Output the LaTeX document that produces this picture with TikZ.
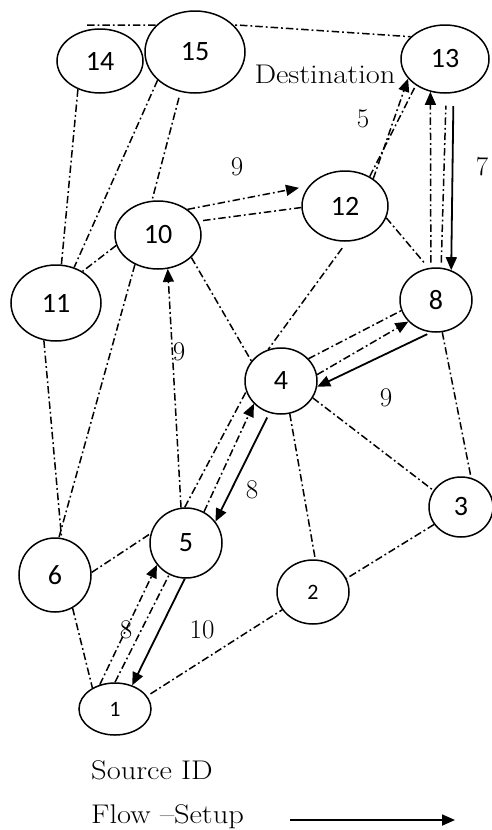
\documentclass[tikz,border=0pt]{standalone}
\usepackage{fontspec}
\newfontfamily\numf{Carlito}
\usetikzlibrary{shapes.geometric,arrows.meta,backgrounds}
\newcommand{\wide}[1]{\scalebox{1.13}[1]{#1}}
\tikzset{
  nd/.style={ellipse,draw,fill=white,line width=1.5pt,inner sep=0pt,font=\numf\fontsize{28}{30}\selectfont},
  dd/.style={line width=1.5pt,dash pattern=on 7.5pt off 3pt on 1.8pt off 3pt},
  flow/.style={line width=1.8pt},
  tip/.style={-{Triangle[length=13pt,width=11pt]}},
  lab/.style={font=\fontsize{27}{30}\selectfont,inner sep=0pt},
}
\begin{document}
\begin{tikzpicture}[x=1pt,y=-1pt]
\useasboundingbox (0,0) rectangle (491,830);
% nodes
\node[nd,minimum width=86pt,minimum height=64pt] (n14) at (100,61) {14};
\node[nd,minimum width=100pt,minimum height=82pt] (n15) at (195,52) {15};
\node[nd,minimum width=88pt,minimum height=68pt] (n13) at (445,59) {13};
\node[nd,minimum width=86pt,minimum height=70pt] (n12) at (345,206) {12};
\node[nd,minimum width=86pt,minimum height=68pt] (n10) at (158,235) {10};
\node[nd,minimum width=90pt,minimum height=76pt] (n11) at (56,303) {11};
\node[nd,minimum width=72pt,minimum height=64pt] (n8) at (436,300) {8};
\node[nd,minimum width=72pt,minimum height=66pt] (n4) at (281,381) {4};
\node[nd,minimum width=64pt,minimum height=60pt] (n3) at (461,507) {3};
\node[nd,minimum width=72pt,minimum height=70pt] (n5) at (186,543) {5};
\node[nd,minimum width=72pt,minimum height=74pt] (n6) at (55,575) {6};
\node[nd,minimum width=72pt,minimum height=64pt,font=\numf\fontsize{22}{24}\selectfont] (n2) at (313,592) {2};
\node[nd,minimum width=72pt,minimum height=52pt,font=\numf\fontsize{22}{24}\selectfont] (n1) at (115,709) {1};
% free ends
\coordinate (t1) at (87,25);
\coordinate (t2) at (237,25);
\coordinate (fa) at (290,820);
\coordinate (fb) at (455,820);
% connectors
\begin{scope}[on background layer]
\draw[dd] (t1) -- (t2) -- (n13.147);
\draw[dd] (n14.232) -- (n11.82);
\draw[dd] (n15.217) -- (n11.63);
\draw[dd,shorten <=6pt] (n15.250) -- (n10.100);
\draw[dd,tip,shorten >=10pt] (n10.41) -- (n12.151);
\draw[dd,shorten <=5pt] (n10.19) -- (n12.182);
\draw[dd] (n12.50) -- (n13.222);
\draw[dd,tip] (n12.44) -- (n13.208);
\draw[dd,tip,shorten <=5pt] (n8.99) -- (n13.246);
\draw[dd,shorten <=5pt,shorten >=12pt] (n8.81) -- (n13.272);
\draw[flow,tip,shorten <=13pt] (n13.284) -- (n8.63);
\draw[dd,shorten >=6pt] (n12.344) -- (n8.103);
\draw[dd,shorten <=8pt] (n12.273) -- (n4.112);
\draw[dd] (n10.326) -- (n4.146);
\draw[dd] (n10.194) -- (n11.50);
\draw[dd] (n10.232) -- (n6.84);
\draw[dd] (n11.252) -- (n6.80);
\draw[dd,tip] (n5.98) -- (n10.286);
\draw[dd] (n5.92) -- (n4.197);
\draw[dd,tip] (n5.60) -- (n4.220);
\draw[flow,tip,shorten <=5pt] (n4.250) -- (n5.36);
\draw[dd] (n4.39) -- (n8.197);
\draw[dd,tip] (n4.10) -- (n8.218);
\draw[flow,tip,shorten <=4pt] (n8.261) -- (n4.351);
\draw[dd] (n8.281) -- (n3.71);
\draw[dd] (n4.332) -- (n3.149);
\draw[dd] (n4.285) -- (n2.86);
\draw[dd] (n3.213) -- (n2.22);
\draw[dd] (n6.4) -- (n5.165);
\draw[dd] (n6.298) -- (n1.137);
\draw[dd,tip] (n1.122) -- (n5.217);
\draw[dd] (n1.90) -- (n5.242);
\draw[flow,tip] (n5.268) -- (n1.54);
\draw[dd,shorten <=4pt] (n1.22) -- (n2.210);
\end{scope}
\draw[flow,tip] (fa) -- (fb);
% labels
\node[lab] (l9a) at (237,167) {9};
\node[lab] (l5a) at (363,119) {5};
\node[lab] (l7) at (482,167) {7};
\node[lab] (l9b) at (179,352) {9};
\node[lab] (l9c) at (386,398) {9};
\node[lab] (l8a) at (252,490) {8};
\node[lab] (l8b) at (126,630) {8};
\node[lab] (l10) at (202,630) {10};
\node[lab] (dest) at (325,74) {\wide{Destination}};
\node[lab,anchor=west] (src) at (91,770) {\wide{Source ID}};
\node[lab,anchor=west] (flw) at (91,817) {\wide{Flow --Setup}};
\end{tikzpicture}
\end{document}
